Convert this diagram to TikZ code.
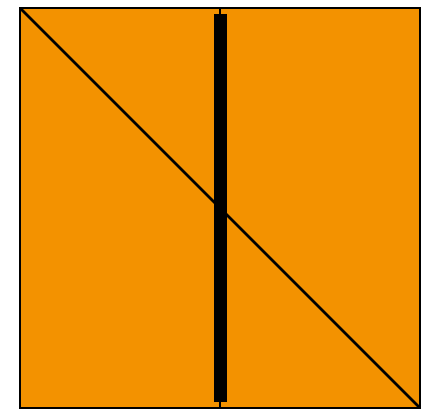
\documentclass[tikz,border=0pt]{standalone}
\definecolor{orng}{RGB}{243,146,0}
\begin{document}
\begin{tikzpicture}[x=1pt,y=-1pt,
  edge/.style={line width=2.5pt,black},
  bar/.style={line width=13pt,black}]
\useasboundingbox (0,0) rectangle (432,420);
\coordinate (tl) at (20,8);
\coordinate (br) at (420,408);
\coordinate (tm) at (220,8);
\coordinate (bm) at (220,408);
\coordinate (bt) at (220,14);
\coordinate (bb) at (220,402);
\fill[orng] (tl) rectangle (br);
\draw[edge] (tm) -- (bm);
\draw[edge] (tl) -- (br);
\draw[bar] (bt) -- (bb);
\draw[edge] (tl) rectangle (br);
\end{tikzpicture}
\end{document}
